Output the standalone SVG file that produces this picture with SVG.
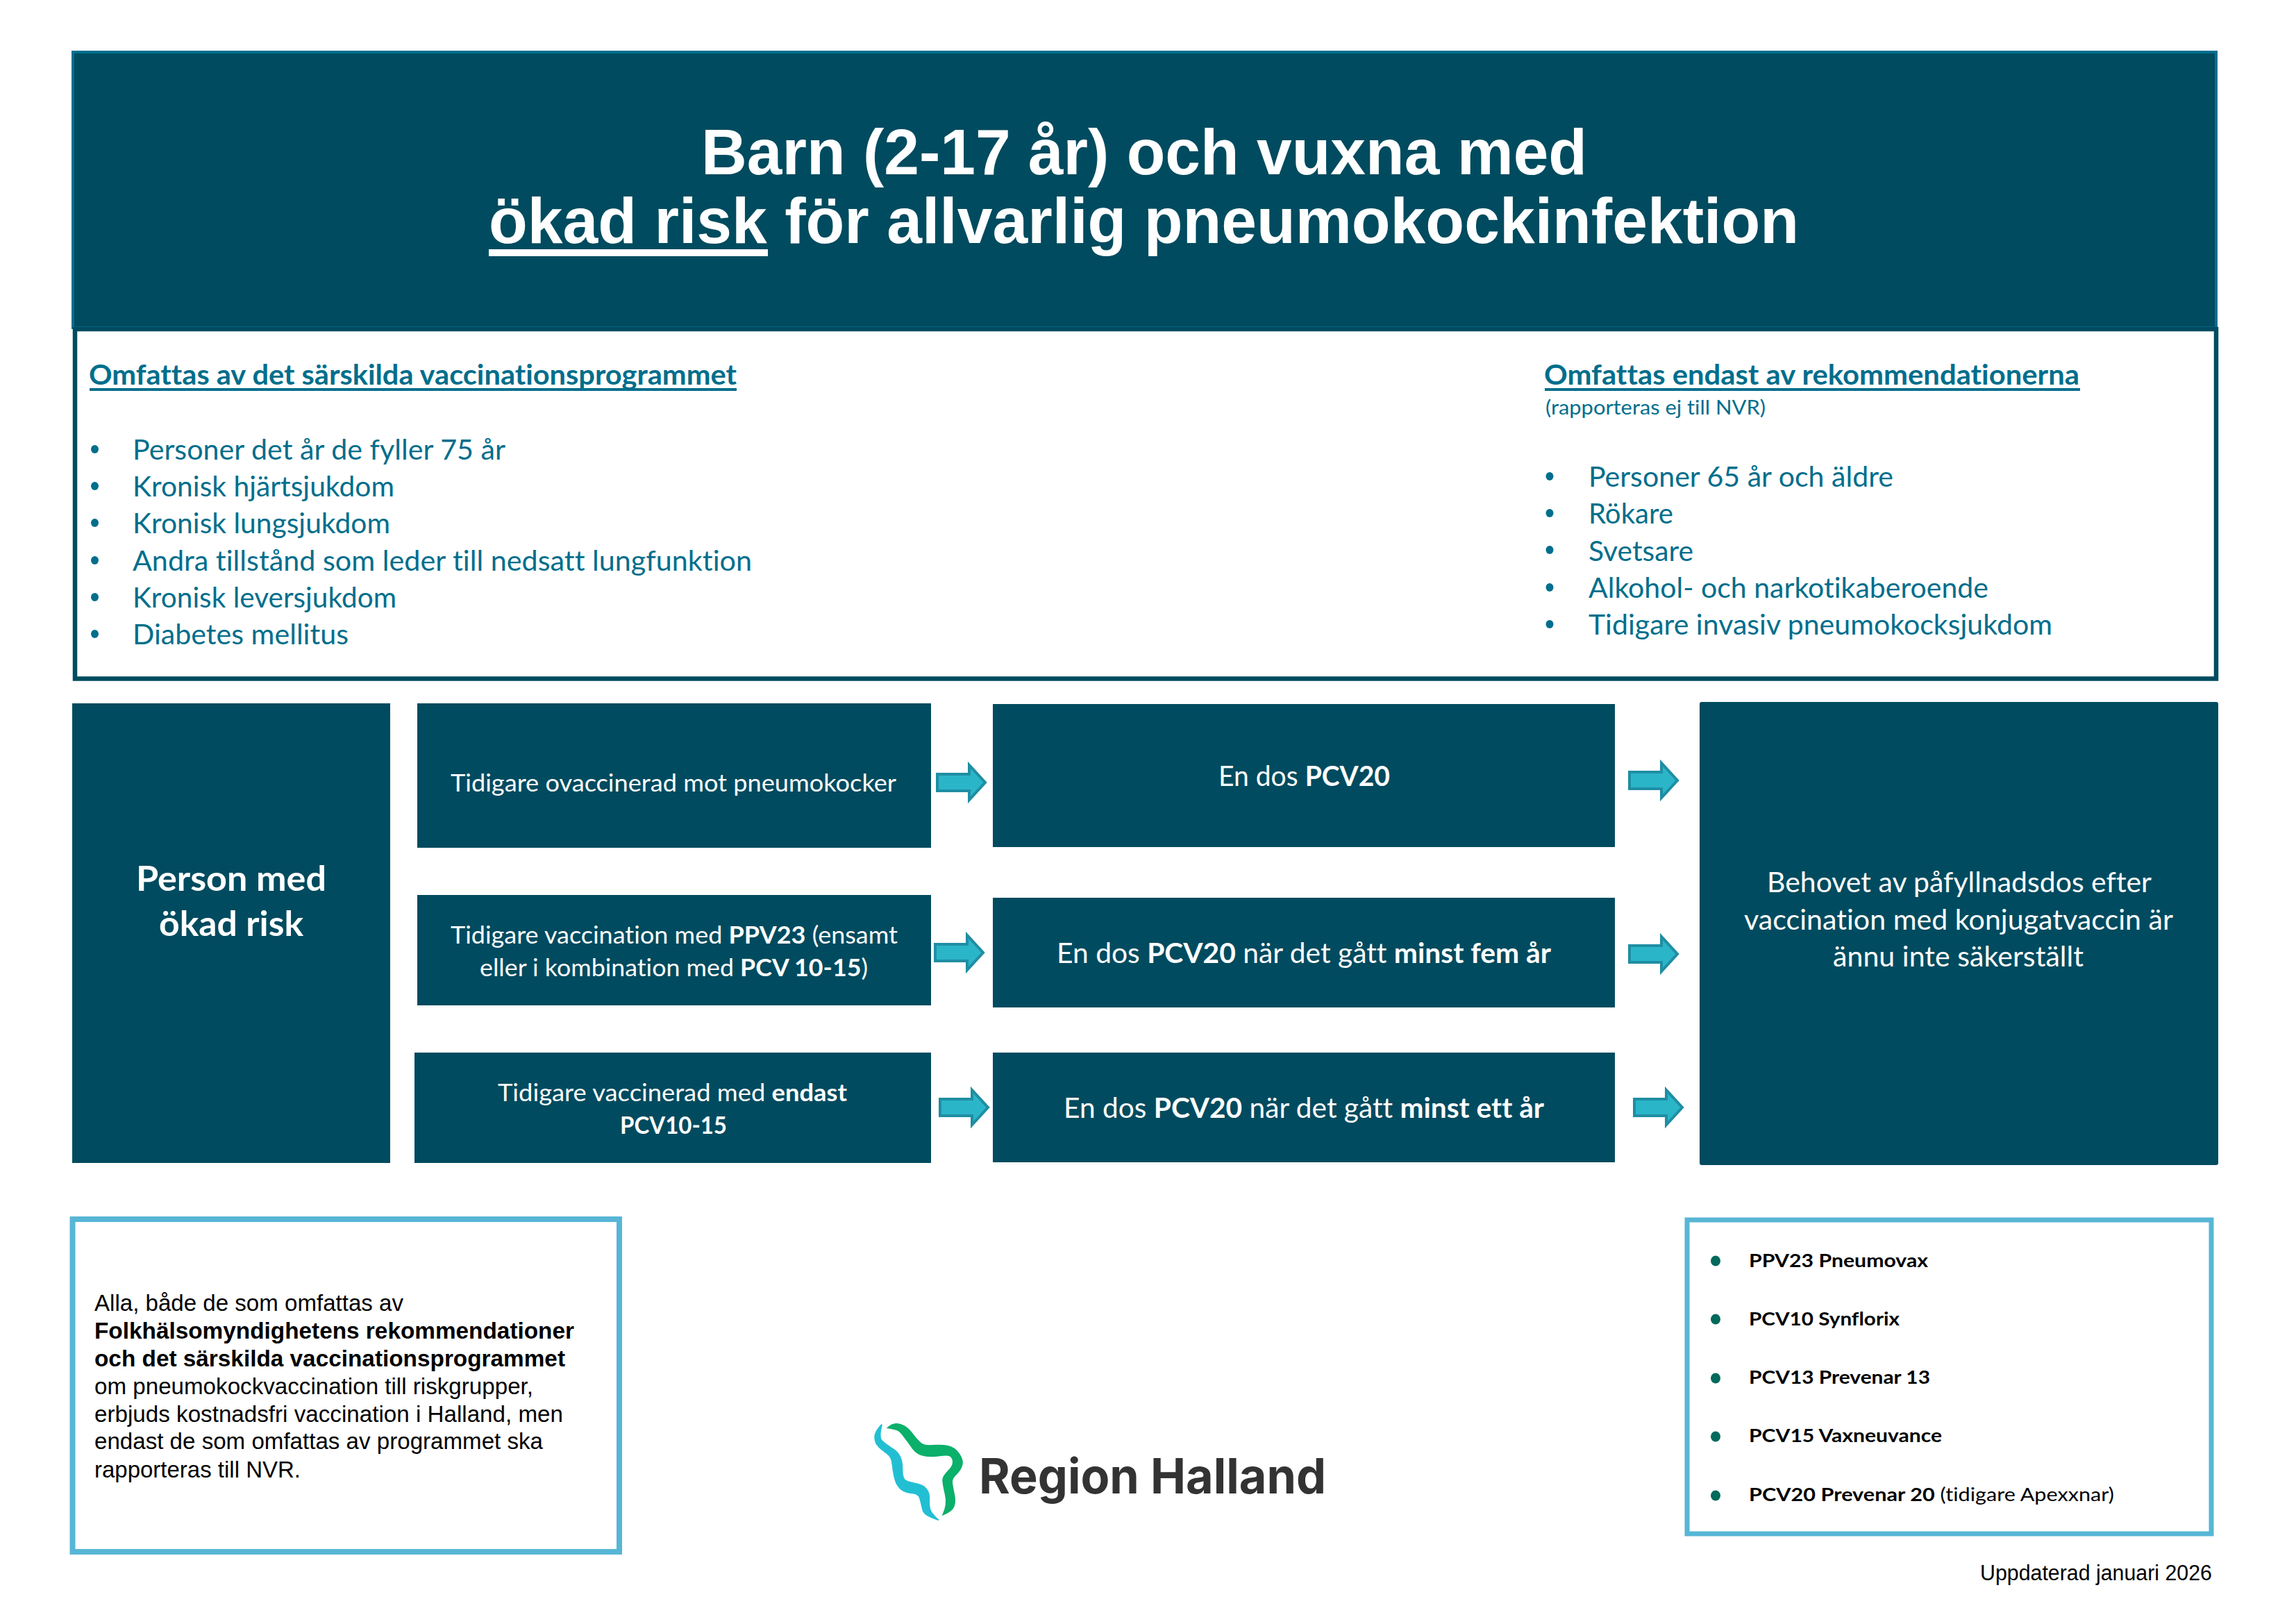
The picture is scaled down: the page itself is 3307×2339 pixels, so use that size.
<svg xmlns="http://www.w3.org/2000/svg" width="3307" height="2339" viewBox="0 0 3307 2339">
<style>
text{font-variant-ligatures:none}
.dark{fill:#004b5f}
.c{font-family:"Lato","Carlito","Liberation Sans",sans-serif}
.a{font-family:"Liberation Sans",Arial,sans-serif}
.w{fill:#fff}
.t{fill:#006e8c}
.k{fill:#000}
.b{font-weight:700}
.s40{font-size:41px}
.s34{font-size:35px}
.s27{font-size:28px}
.s26{font-size:27.500px}
.s49{font-size:50px}
.s33{font-size:33.500px}
.bt{fill:#006e8c}
.bg{fill:#006a5c}
.frame{fill:#fff;stroke:#57b6d6}
.arrow{fill:#2bb5c9;stroke:#1f8ea3;stroke-width:4}
</style>
<defs>
<path id="ar" d="M0 -12H46V-25L69 0L46 25V12H0Z"/>
</defs>
<rect width="3307" height="2339" fill="#fff"/>

<g id="header">
<rect x="105" y="75" width="3087" height="397" class="dark" stroke="#006f90" stroke-width="4"/>
<text class="a b w" font-size="93" x="1010" y="251" textLength="1276" lengthAdjust="spacingAndGlyphs">Barn (2-17 år) och vuxna med</text>
<text class="a b w" font-size="93" x="704" y="350" textLength="1887" lengthAdjust="spacingAndGlyphs">ökad risk för allvarlig pneumokockinfektion</text>
<rect x="704" y="359" width="402" height="10" fill="#fff"/>
</g>

<g id="target-groups">
<rect x="108" y="474" width="3084" height="503.500" fill="#fff" stroke="#004b5f" stroke-width="6.500"/>
<text class="c b t s40" x="128" y="554" textLength="933" lengthAdjust="spacingAndGlyphs">Omfattas av det särskilda vaccinationsprogrammet</text>
<rect x="129" y="559" width="932" height="4" class="bt"/>
<g class="bt"><ellipse cx="136.500" cy="647" rx="5.500" ry="6"/><ellipse cx="136.500" cy="700" rx="5.500" ry="6"/><ellipse cx="136.500" cy="753" rx="5.500" ry="6"/><ellipse cx="136.500" cy="807" rx="5.500" ry="6"/><ellipse cx="136.500" cy="860" rx="5.500" ry="6"/><ellipse cx="136.500" cy="913" rx="5.500" ry="6"/></g>
<g class="c t s40">
<text x="191" y="662" textLength="537" lengthAdjust="spacingAndGlyphs">Personer det år de fyller 75 år</text>
<text x="191" y="715" textLength="377" lengthAdjust="spacingAndGlyphs">Kronisk hjärtsjukdom</text>
<text x="191" y="768" textLength="371" lengthAdjust="spacingAndGlyphs">Kronisk lungsjukdom</text>
<text x="191" y="822" textLength="892" lengthAdjust="spacingAndGlyphs">Andra tillstånd som leder till nedsatt lungfunktion</text>
<text x="191" y="875" textLength="380" lengthAdjust="spacingAndGlyphs">Kronisk leversjukdom</text>
<text x="191" y="928" textLength="311" lengthAdjust="spacingAndGlyphs">Diabetes mellitus</text>
</g>
<text class="c b t s40" x="2224" y="554" textLength="771" lengthAdjust="spacingAndGlyphs">Omfattas endast av rekommendationerna</text>
<rect x="2225" y="559" width="771" height="4" class="bt"/>
<text class="c t s27" x="2226" y="597" textLength="317" lengthAdjust="spacingAndGlyphs">(rapporteras ej till NVR)</text>
<g class="bt"><ellipse cx="2232" cy="686" rx="5.500" ry="6"/><ellipse cx="2232" cy="739" rx="5.500" ry="6"/><ellipse cx="2232" cy="792" rx="5.500" ry="6"/><ellipse cx="2232" cy="846" rx="5.500" ry="6"/><ellipse cx="2232" cy="899" rx="5.500" ry="6"/></g>
<g class="c t s40">
<text x="2288" y="701" textLength="439" lengthAdjust="spacingAndGlyphs">Personer 65 år och äldre</text>
<text x="2288" y="754" textLength="122" lengthAdjust="spacingAndGlyphs">Rökare</text>
<text x="2288" y="808" textLength="151" lengthAdjust="spacingAndGlyphs">Svetsare</text>
<text x="2288" y="861" textLength="576" lengthAdjust="spacingAndGlyphs">Alkohol- och narkotikaberoende</text>
<text x="2288" y="914" textLength="668" lengthAdjust="spacingAndGlyphs">Tidigare invasiv pneumokocksjukdom</text>
</g>
</g>

<g id="person">
<rect x="104" y="1013" width="458" height="662" class="dark"/>
<text class="c b w s49" x="196" y="1283" textLength="274" lengthAdjust="spacingAndGlyphs">Person med</text>
<text class="c b w s49" x="229" y="1348" textLength="208" lengthAdjust="spacingAndGlyphs">ökad risk</text>
</g>

<g id="history-1">
<rect x="601" y="1013" width="740" height="208" class="dark"/>
<text class="c w s34" x="649" y="1140" textLength="642" lengthAdjust="spacingAndGlyphs">Tidigare ovaccinerad mot pneumokocker</text>
</g>
<g id="history-2">
<rect x="601" y="1289" width="740" height="159" class="dark"/>
<text class="c w s34" x="649" y="1359" textLength="644" lengthAdjust="spacingAndGlyphs">Tidigare vaccination med <tspan class="b">PPV23</tspan> (ensamt</text>
<text class="c w s34" x="691" y="1406" textLength="559" lengthAdjust="spacingAndGlyphs">eller i kombination med <tspan class="b">PCV 10-15</tspan>)</text>
</g>
<g id="history-3">
<rect x="597" y="1516" width="744" height="159" class="dark"/>
<text class="c w s34" x="717" y="1586" textLength="503" lengthAdjust="spacingAndGlyphs">Tidigare vaccinerad med <tspan class="b">endast</tspan></text>
<text class="c b w s34" x="893" y="1633" textLength="154" lengthAdjust="spacingAndGlyphs">PCV10-15</text>
</g>

<g id="dose-1">
<rect x="1430" y="1014" width="896" height="206" class="dark"/>
<text class="c w s40" x="1755" y="1132" textLength="247" lengthAdjust="spacingAndGlyphs">En dos <tspan class="b">PCV20</tspan></text>
</g>
<g id="dose-2">
<rect x="1430" y="1293" width="896" height="158" class="dark"/>
<text class="c w s40" x="1522" y="1387" textLength="712" lengthAdjust="spacingAndGlyphs">En dos <tspan class="b">PCV20</tspan> när det gått <tspan class="b">minst fem år</tspan></text>
</g>
<g id="dose-3">
<rect x="1430" y="1516" width="896" height="158" class="dark"/>
<text class="c w s40" x="1532" y="1610" textLength="692" lengthAdjust="spacingAndGlyphs">En dos <tspan class="b">PCV20</tspan> när det gått <tspan class="b">minst ett år</tspan></text>
</g>

<g id="booster">
<rect x="2448" y="1011" width="747" height="667" rx="3" class="dark"/>
<g class="c w s40">
<text x="2545" y="1285" textLength="554" lengthAdjust="spacingAndGlyphs">Behovet av påfyllnadsdos efter</text>
<text x="2512" y="1339" textLength="618" lengthAdjust="spacingAndGlyphs">vaccination med konjugatvaccin är</text>
<text x="2640" y="1392" textLength="361" lengthAdjust="spacingAndGlyphs">ännu inte säkerställt</text>
</g>
</g>

<g id="connectors" class="arrow">
<use href="#ar" x="1350" y="1127"/>
<use href="#ar" x="1347" y="1372"/>
<use href="#ar" x="1354" y="1595"/>
<use href="#ar" x="2347" y="1124"/>
<use href="#ar" x="2347" y="1374"/>
<use href="#ar" x="2354" y="1595"/>
</g>

<g id="note">
<rect x="104.500" y="1756" width="787.500" height="479" class="frame" stroke-width="8"/>
<g class="a k s33">
<text x="136" y="1888" textLength="445" lengthAdjust="spacingAndGlyphs">Alla, både de som omfattas av</text>
<text class="b" x="136" y="1928" textLength="691" lengthAdjust="spacingAndGlyphs">Folkhälsomyndighetens rekommendationer</text>
<text class="b" x="136" y="1968" textLength="678" lengthAdjust="spacingAndGlyphs">och det särskilda vaccinationsprogrammet</text>
<text x="136" y="2008" textLength="632" lengthAdjust="spacingAndGlyphs">om pneumokockvaccination till riskgrupper,</text>
<text x="136" y="2048" textLength="675" lengthAdjust="spacingAndGlyphs">erbjuds kostnadsfri vaccination i Halland, men</text>
<text x="136" y="2087" textLength="646" lengthAdjust="spacingAndGlyphs">endast de som omfattas av programmet ska</text>
<text x="136" y="2128" textLength="297" lengthAdjust="spacingAndGlyphs">rapporteras till NVR.</text>
</g>
</g>

<g id="logo">
<g transform="translate(1199 1990) scale(.49 .3333)">
<path fill="#0bb06a" stroke="#0bb06a" stroke-width="4" d="M162 200Q175 182 187 182Q200 182 212 193Q225 205 237 230Q250 255 260 266Q270 278 295 275Q320 272 340 278Q360 285 372 312Q385 340 380 362Q375 385 362 402Q350 420 351 435Q352 450 357 485Q362 520 356 540Q350 560 325 575Q340 530 332 485Q325 440 325 425Q325 410 340 387Q355 365 355 347Q355 330 347 322Q340 315 315 320Q290 325 270 320Q250 315 237 290Q225 265 212 240Q200 215 192 210Q185 205 162 200Z"/>
<path fill="#22bfd3" stroke="#22bfd3" stroke-width="4" d="M145 185Q125 215 125 240Q125 265 137 282Q150 300 162 312Q175 325 177 362Q180 400 185 425Q190 450 202 465Q215 480 235 482Q255 485 258 507Q262 530 266 555Q270 580 312 598Q290 570 286 550Q283 530 284 505Q285 480 275 462Q265 445 245 440Q225 435 215 427Q205 420 205 380Q205 340 197 320Q190 300 172 285Q155 270 145 255Q135 240 145 185Z"/>
</g>
<text font-family="Inter,Lato,sans-serif" font-weight="700" font-size="70" fill="#333" x="1410" y="2151" textLength="500" lengthAdjust="spacingAndGlyphs">Region Halland</text>
</g>

<g id="legend">
<rect x="2430" y="1757" width="755" height="452" class="frame" stroke-width="7"/>
<g class="bg"><ellipse cx="2471" cy="1816" rx="7" ry="7.500"/><ellipse cx="2471" cy="1900" rx="7" ry="7.500"/><ellipse cx="2471" cy="1985" rx="7" ry="7.500"/><ellipse cx="2471" cy="2069" rx="7" ry="7.500"/><ellipse cx="2471" cy="2154" rx="7" ry="7.500"/></g>
<g class="c k s26">
<text class="b" x="2519" y="1825" textLength="258" lengthAdjust="spacingAndGlyphs">PPV23 Pneumovax</text>
<text class="b" x="2519" y="1909" textLength="217" lengthAdjust="spacingAndGlyphs">PCV10 Synflorix</text>
<text class="b" x="2519" y="1993" textLength="261" lengthAdjust="spacingAndGlyphs">PCV13 Prevenar 13</text>
<text class="b" x="2519" y="2077" textLength="278" lengthAdjust="spacingAndGlyphs">PCV15 Vaxneuvance</text>
<text x="2519" y="2162" textLength="526" lengthAdjust="spacingAndGlyphs"><tspan class="b">PCV20 Prevenar 20</tspan> (tidigare Apexxnar)</text>
</g>
</g>

<g id="updated">
<text class="a k" font-size="31" x="2852" y="2276" textLength="334" lengthAdjust="spacingAndGlyphs">Uppdaterad januari 2026</text>
</g>
</svg>
